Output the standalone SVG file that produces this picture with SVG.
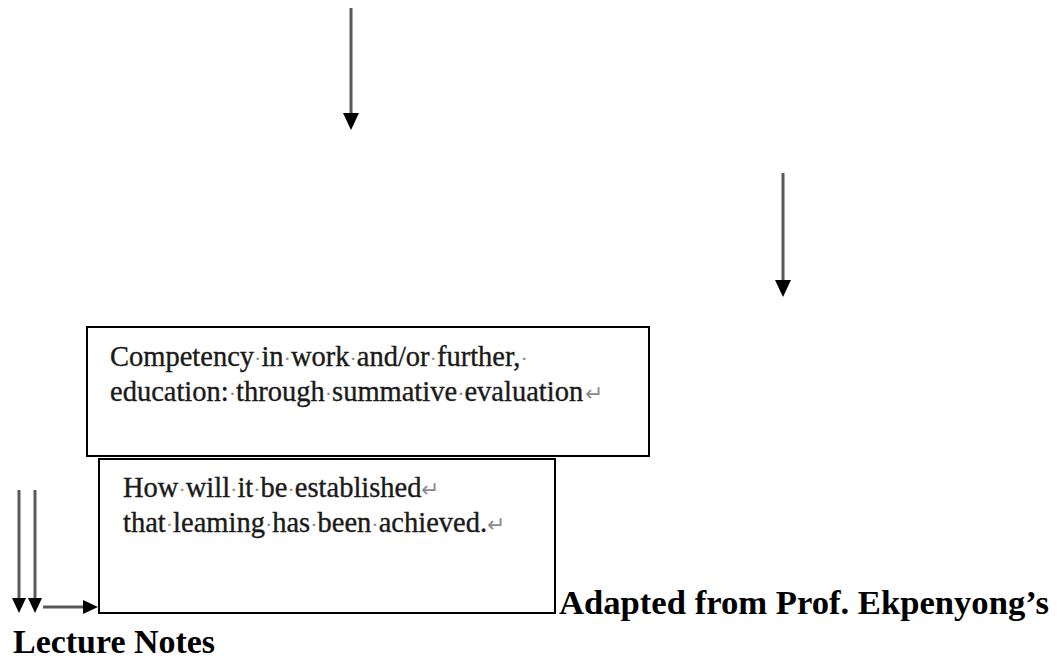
<svg xmlns="http://www.w3.org/2000/svg" width="1061" height="661" viewBox="0 0 1061 661">
  <style>
    .box { fill: #ffffff; stroke: #000000; stroke-width: 2; }
    .body { font-family: "Liberation Serif", "Times New Roman", serif; font-size: 28.5px; fill: #1a1a1a; stroke: #1a1a1a; stroke-width: 0.35; }
    .mark { fill: #8a8a8a; stroke: none; font-size: 22px; }
    .cap { font-family: "Liberation Serif", "Times New Roman", serif; font-size: 34px; font-weight: bold; fill: #000000; }
    .shaft { stroke: #595959; stroke-width: 3; fill: none; }
  </style>
  <defs>
    <marker id="headBig" markerUnits="userSpaceOnUse" markerWidth="17" markerHeight="16" refX="0" refY="8" orient="auto">
      <path d="M0,0 L17,8 L0,16 Z" fill="#000000"/>
    </marker>
    <marker id="headSmall" markerUnits="userSpaceOnUse" markerWidth="15" markerHeight="14" refX="0" refY="7" orient="auto">
      <path d="M0,0 L15,7 L0,14 Z" fill="#000000"/>
    </marker>
  </defs>
  <rect width="1061" height="661" fill="#ffffff"/>

  <g id="connectors">
    <line class="shaft" x1="351" y1="8" x2="351" y2="113" marker-end="url(#headBig)"/>
    <line class="shaft" x1="783" y1="173" x2="783" y2="280" marker-end="url(#headBig)"/>
    <line class="shaft" x1="19" y1="490" x2="19" y2="598" marker-end="url(#headSmall)"/>
    <line class="shaft" x1="35" y1="490" x2="35" y2="598" marker-end="url(#headSmall)"/>
    <line class="shaft" x1="43" y1="607" x2="83" y2="607" marker-end="url(#headSmall)"/>
  </g>

  <g id="node-competency">
    <rect class="box" x="87" y="327" width="562" height="129"/>
    <text class="body" x="110" y="366">Competency<tspan class="mark">·</tspan>in<tspan class="mark">·</tspan>work<tspan class="mark">·</tspan>and/or<tspan class="mark">·</tspan>further,<tspan class="mark">·</tspan></text>
    <text class="body" x="110" y="401">education:<tspan class="mark">·</tspan>through<tspan class="mark">·</tspan>summative<tspan class="mark">·</tspan>evaluation<tspan class="mark" dx="2">↵</tspan></text>
  </g>

  <g id="node-established">
    <rect class="box" x="99" y="459" width="456" height="154"/>
    <text class="body" x="123" y="497">How<tspan class="mark">·</tspan>will<tspan class="mark">·</tspan>it<tspan class="mark">·</tspan>be<tspan class="mark">·</tspan>established<tspan class="mark">↵</tspan></text>
    <text class="body" x="123" y="532">that<tspan class="mark">·</tspan>leaming<tspan class="mark">·</tspan>has<tspan class="mark">·</tspan>been<tspan class="mark">·</tspan>achieved.<tspan class="mark">↵</tspan></text>
  </g>

  <g id="caption">
    <text class="cap" x="559" y="614" textLength="490" lengthAdjust="spacingAndGlyphs">Adapted from Prof.  Ekpenyong’s</text>
    <text class="cap" x="13" y="653" textLength="202" lengthAdjust="spacingAndGlyphs">Lecture Notes</text>
  </g>
</svg>
